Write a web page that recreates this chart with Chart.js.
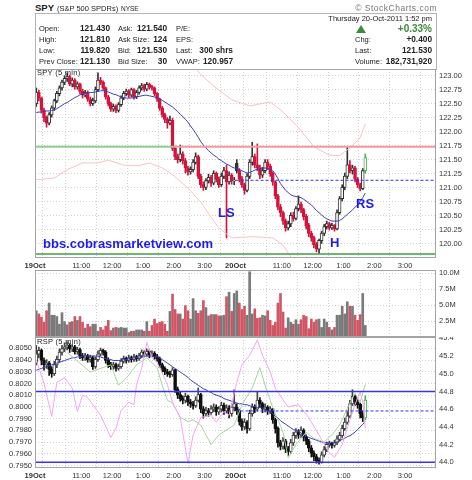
<!DOCTYPE html>
<html>
<head>
<meta charset="utf-8">
<script src="https://cdn.jsdelivr.net/npm/chart.js@4.4.0/dist/chart.umd.min.js"></script>
<style>
  body { margin: 0; background: #fff; width: 472px; height: 480px; position: relative; overflow: hidden;
         font-family: "Liberation Sans", Arial, sans-serif; color: #222; }
  .t { position: absolute; white-space: nowrap; line-height: 1; }
  canvas { position: absolute; left: 0; }
  #box { position: absolute; left: 35px; top: 13px; width: 402px; height: 57px; border: 1px solid #b4b4b4;
         border-bottom: none; box-sizing: border-box; }
  #tri { position: absolute; left: 356px; top: 25px; width: 0; height: 0; border-left: 5px solid transparent;
         border-right: 5px solid transparent; border-bottom: 8px solid #3c8a3c; }
</style>
</head>
<body>
<div id="box"></div>
<div id="tri"></div>
<canvas id="price" width="472" height="201" style="top:69px"></canvas>
<canvas id="vol" width="472" height="67" style="top:270px"></canvas>
<canvas id="rsp" width="472" height="143" style="top:337px"></canvas>

<script>
// ---------- data (5 min bars, 19-Oct 9:30 .. 20-Oct 1:45) ----------
const xTicks = [-0.5, 5.5, 17.5, 29.5, 41.5, 53.5, 65.5, 77.5, 83.5, 95.5, 107.5, 119.5, 131.5, 143.5, 155.5];
const xTickLabels = ['19Oct', '', '11:00', '12:00', '1:00', '2:00', '3:00', '20Oct', '', '11:00', '12:00', '1:00', '2:00', '3:00', ''];
const dayStart = [0, 78];

const priceTicks = [120.00, 120.25, 120.50, 120.75, 121.00, 121.25, 121.50, 121.75, 122.00, 122.25, 122.50, 122.75, 123.00];
const volTicks = [2.5, 5.0, 7.5, 10.0];
const ratioTicks = [0.7950, 0.7960, 0.7970, 0.7980, 0.7990, 0.8000, 0.8010, 0.8020, 0.8030, 0.8040, 0.8050];
const rspTicks = [44.0, 44.2, 44.4, 44.6, 44.8, 45.0, 45.2, 45.4];

const spyDayOpen = [122.50, 121.43];
const spyClose = [
  122.70,122.60,122.38,122.25,122.15,122.30,122.42,122.55,122.68,122.78,
  122.88,122.95,122.98,122.85,122.92,122.80,122.85,122.72,122.65,122.70,
  122.58,122.50,122.55,122.75,122.92,122.88,122.78,122.62,122.50,122.40,
  122.45,122.38,122.48,122.60,122.68,122.72,122.65,122.75,122.62,122.70,
  122.78,122.82,122.76,122.84,122.80,122.78,122.68,122.58,122.42,122.30,
  122.22,122.15,122.20,121.70,121.55,121.50,121.60,121.48,121.35,121.28,
  121.32,121.45,121.55,121.20,121.05,121.00,121.12,121.18,121.08,121.25,
  121.15,121.05,121.20,121.30,121.10,121.22,121.12,121.13,121.30,121.15,
  121.05,120.95,121.20,121.45,121.55,121.40,121.35,121.22,121.30,121.45,
  121.38,121.25,121.10,120.85,120.65,120.55,120.40,120.28,120.35,120.50,
  120.45,120.62,120.70,120.60,120.48,120.32,120.18,120.10,119.98,119.90,
  120.05,120.18,120.30,120.35,120.28,120.32,120.26,120.55,120.80,121.00,
  121.20,121.40,121.30,121.35,121.15,121.05,120.98,121.30,121.53
];
const spyHigh = [
  122.78,122.74,122.62,122.42,122.28,122.34,122.46,122.58,122.72,122.82,
  122.92,123.00,123.05,123.01,122.96,122.95,122.89,122.87,122.76,122.74,
  122.73,122.62,122.60,122.80,123.05,122.97,122.91,122.80,122.65,122.53,
  122.49,122.48,122.52,122.64,122.72,122.76,122.75,122.78,122.77,122.74,
  122.82,122.86,122.85,122.88,122.87,122.83,122.80,122.70,122.60,122.45,
  122.33,122.25,122.28,122.24,121.74,121.60,121.76,121.64,121.52,121.38,
  121.37,121.50,121.62,121.58,121.24,121.10,121.16,121.24,121.22,121.30,
  121.28,121.19,121.26,121.36,121.40,121.28,121.25,121.18,121.50,121.34,
  121.20,121.08,121.25,121.50,121.81,121.60,121.78,121.40,121.36,121.50,
  121.50,121.42,121.28,121.12,120.88,120.70,120.58,120.44,120.40,120.55,
  120.56,120.66,120.85,120.74,120.63,120.52,120.36,120.22,120.13,120.02,
  120.08,120.22,120.34,120.40,120.38,120.36,120.34,120.60,120.84,121.05,
  121.26,121.72,121.48,121.40,121.38,121.18,121.08,121.34,121.60
];
const spyLow = [
  122.45,122.55,122.33,122.18,122.08,122.12,122.26,122.38,122.52,122.64,
  122.74,122.84,122.90,122.82,122.80,122.76,122.76,122.68,122.60,122.62,
  122.54,122.46,122.47,122.52,122.72,122.84,122.74,122.58,122.46,122.36,
  122.36,122.34,122.35,122.45,122.57,122.64,122.61,122.62,122.58,122.59,
  122.67,122.74,122.72,122.73,122.76,122.74,122.64,122.54,122.38,122.26,
  122.16,122.06,122.12,121.66,121.50,121.44,121.46,121.42,121.26,121.22,
  121.24,121.28,121.42,121.16,121.00,120.95,120.96,121.08,121.02,121.05,
  121.10,121.00,121.02,121.16,120.10,121.06,121.06,121.05,121.26,121.10,
  121.00,120.88,120.92,121.16,121.40,121.35,121.30,121.16,121.18,121.26,
  121.32,121.20,121.04,120.80,120.60,120.48,120.34,120.22,120.24,120.30,
  120.40,120.42,120.58,120.55,120.42,120.26,120.12,120.04,119.92,119.85,
  119.82,120.00,120.14,120.26,120.24,120.25,120.22,120.24,120.52,120.76,
  120.96,121.16,121.26,121.24,121.10,121.00,120.94,120.96,121.26
];
const spyMA = [
  122.34,122.35,122.35,122.36,122.37,122.37,122.38,122.39,122.41,122.44,
  122.47,122.50,122.52,122.55,122.58,122.61,122.63,122.66,122.67,122.68,
  122.69,122.70,122.70,122.71,122.72,122.73,122.73,122.72,122.71,122.69,
  122.67,122.66,122.64,122.62,122.61,122.60,122.60,122.60,122.61,122.62,
  122.63,122.64,122.65,122.65,122.64,122.63,122.62,122.61,122.59,122.56,
  122.53,122.50,122.47,122.44,122.40,122.36,122.31,122.27,122.22,122.17,
  122.10,122.04,121.97,121.90,121.82,121.76,121.71,121.66,121.62,121.58,
  121.55,121.51,121.48,121.45,121.42,121.40,121.37,121.35,121.33,121.32,
  121.30,121.28,121.26,121.27,121.29,121.31,121.33,121.34,121.35,121.35,
  121.34,121.33,121.30,121.24,121.16,121.07,121.01,120.95,120.91,120.87,
  120.85,120.84,120.83,120.82,120.79,120.76,120.72,120.69,120.64,120.59,
  120.55,120.51,120.47,120.44,120.42,120.40,120.40,120.40,120.41,120.44,
  120.48,120.52,120.56,120.60,120.65,120.69,120.75,120.82,120.90
];
const spyUpperBar = [62, 64, 70, 76, 83, 91, 96, 102, 108, 114, 118, 122, 126, 128];
const spyUpperVal = [123.14, 123.02, 122.78, 122.57, 122.46, 122.53, 122.35, 122.07, 121.73, 121.58, 121.57, 121.71, 121.89, 122.14];
const spyLowerBar = [0, 7, 12, 18, 24, 28, 34, 40, 44, 49, 53, 59, 64, 66, 71, 76, 84, 92, 96, 99, 100];
const spyLowerVal = [121.14, 121.17, 121.32, 121.44, 121.44, 121.49, 121.40, 121.39, 121.44, 121.35, 121.23, 120.99, 120.74, 120.60, 120.28, 120.10, 120.12, 120.10, 119.97, 119.76, 119.70];
const spyLevels = [121.73, 119.81, 121.13];   // resistance, support, prev close

const volume = [   // millions
  4.1,3.6,3.1,2.3,4.1,5.3,3.4,3.4,3.2,2.0,
  3.8,2.4,1.9,2.3,2.4,3.2,2.6,3.2,2.3,1.4,
  2.0,1.6,2.0,2.0,0.9,1.5,1.1,1.7,2.6,1.0,
  1.4,1.5,1.4,1.5,1.4,1.4,0.7,0.9,0.9,1.1,
  1.1,1.1,0.9,2.4,0.9,1.8,2.8,2.1,2.3,2.4,
  2.0,0.9,4.0,6.7,4.3,3.6,3.6,2.8,4.9,4.1,
  2.8,6.0,4.1,3.7,4.1,5.7,4.6,3.3,3.5,3.5,
  3.5,3.3,3.3,3.4,6.3,7.0,4.0,6.8,
  7.2,5.3,4.3,4.8,3.4,10.2,3.6,4.4,2.9,3.0,
  3.4,3.3,4.1,2.6,1.8,2.3,5.3,6.8,3.9,1.4,
  3.0,2.3,2.0,2.7,2.0,2.7,3.4,3.2,1.3,2.8,
  2.3,2.7,2.8,1.5,2.8,2.3,1.5,1.1,1.5,3.4,
  3.4,4.8,3.6,5.5,4.8,4.8,3.4,2.6,3.5,6.8,1.8
];

const rspDayOpen = [45.12, 44.62];
const rspClose = [
  45.22,45.26,45.15,45.10,45.12,45.05,45.00,45.10,45.16,45.24,
  45.28,45.30,45.32,45.28,45.30,45.25,45.27,45.20,45.18,45.20,
  45.16,45.18,45.08,45.16,45.22,45.26,45.24,45.15,45.10,45.08,
  45.10,45.06,45.08,45.14,45.17,45.15,45.18,45.16,45.19,45.17,
  45.20,45.24,45.22,45.25,45.21,45.23,45.19,45.17,45.10,45.06,
  45.02,45.00,44.99,45.04,44.82,44.76,44.72,44.70,44.74,44.68,
  44.66,44.64,44.70,44.76,44.60,44.55,44.58,44.56,44.60,44.62,
  44.57,44.60,44.64,44.58,44.61,44.55,44.62,44.66,44.58,44.46,
  44.40,44.45,44.38,44.55,44.62,44.60,44.70,44.66,44.60,44.62,
  44.58,44.60,44.48,44.38,44.22,44.18,44.24,44.15,44.12,44.22,
  44.30,44.34,44.31,44.36,44.28,44.24,44.16,44.10,44.06,44.02,
  44.00,44.08,44.14,44.20,44.21,44.19,44.22,44.26,44.30,44.38,
  44.45,44.52,44.66,44.74,44.68,44.65,44.55,44.50,44.70
];
const rspHigh = [
  45.32,45.30,45.28,45.18,45.16,45.14,45.08,45.14,45.20,45.28,
  45.32,45.35,45.36,45.34,45.33,45.32,45.30,45.29,45.23,45.23,
  45.22,45.21,45.20,45.19,45.26,45.29,45.28,45.26,45.18,45.13,
  45.13,45.12,45.11,45.17,45.20,45.19,45.21,45.20,45.22,45.21,
  45.23,45.27,45.26,45.28,45.27,45.26,45.25,45.22,45.19,45.12,
  45.08,45.05,45.03,45.07,45.05,44.85,44.79,44.75,44.78,44.76,
  44.71,44.69,44.74,44.84,44.78,44.63,44.62,44.61,44.64,44.66,
  44.65,44.63,44.68,44.67,44.65,44.64,44.66,44.82,44.66,44.60,
  44.49,44.49,44.47,44.59,44.66,44.65,44.80,44.73,44.68,44.66,
  44.64,44.63,44.61,44.50,44.40,44.25,44.28,44.26,44.18,44.26,
  44.34,44.38,44.37,44.40,44.38,44.31,44.26,44.19,44.13,44.09,
  44.05,44.12,44.18,44.23,44.24,44.23,44.25,44.30,44.34,44.42,
  44.50,44.57,44.70,44.82,44.76,44.71,44.67,44.58,44.75
];
const rspLow = [
  45.10,45.18,45.10,45.04,45.06,44.98,44.96,44.98,45.07,45.13,
  45.21,45.25,45.27,45.24,45.25,45.22,45.22,45.17,45.15,45.15,
  45.13,45.13,45.05,45.06,45.14,45.20,45.21,45.12,45.07,45.05,
  45.05,45.03,45.04,45.06,45.12,45.12,45.13,45.13,45.14,45.14,
  45.15,45.18,45.19,45.20,45.18,45.19,45.16,45.14,45.07,45.02,
  44.99,44.97,44.96,44.97,44.79,44.72,44.69,44.66,44.67,44.64,
  44.62,44.60,44.62,44.68,44.56,44.50,44.52,44.52,44.54,44.57,
  44.53,44.54,44.57,44.54,44.55,44.50,44.52,44.58,44.54,44.42,
  44.36,44.37,44.33,44.36,44.52,44.56,44.58,44.62,44.56,44.57,
  44.54,44.55,44.44,44.33,44.17,44.14,44.15,44.11,44.08,44.10,
  44.19,44.27,44.27,44.28,44.24,44.20,44.12,44.06,44.02,43.99,
  43.98,43.99,44.06,44.12,44.17,44.16,44.17,44.20,44.24,44.28,
  44.36,44.43,44.50,44.64,44.64,44.61,44.50,44.46,44.48
];
const rspMA = [
  45.04,45.05,45.06,45.07,45.08,45.09,45.10,45.11,45.12,45.13,
  45.14,45.15,45.16,45.17,45.18,45.18,45.19,45.19,45.20,45.20,
  45.20,45.20,45.20,45.20,45.20,45.19,45.18,45.17,45.16,45.16,
  45.15,45.15,45.15,45.15,45.16,45.16,45.17,45.17,45.18,45.18,
  45.19,45.19,45.20,45.20,45.20,45.20,45.19,45.19,45.18,45.16,
  45.14,45.12,45.10,45.08,45.06,45.04,45.02,45.00,44.98,44.96,
  44.93,44.91,44.89,44.87,44.85,44.83,44.82,44.80,44.79,44.77,
  44.76,44.75,44.74,44.72,44.71,44.70,44.69,44.68,44.67,44.66,
  44.66,44.65,44.65,44.64,44.63,44.63,44.62,44.62,44.61,44.60,
  44.58,44.57,44.55,44.52,44.50,44.47,44.45,44.43,44.41,44.39,
  44.37,44.36,44.35,44.33,44.31,44.30,44.28,44.27,44.26,44.25,
  44.24,44.23,44.22,44.22,44.22,44.22,44.22,44.23,44.24,44.26,
  44.27,44.29,44.30,44.32,44.34,44.37,44.40,44.43,44.46
];
const ratioBar = [0,3,6,8,11,14,16,18,20,25,29,31,33,36,38,39,41,43,45,47,49,51,53,56,59,61,64,68,70,73,75,78,80,83,86,88,91,93,96,98,102,106,110,114,116,119,121,124,126,127,128];
const ratioVal = [.8040,.8020,.7992,.8021,.8025,.8016,.7996,.8010,.8008,.7993,.7974,.7982,.7997,.8004,.8002,.8019,.8033,.8055,.8042,.8038,
  .8029,.8019,.8004,.7991,.7952,.7976,.7991,.7993,.7987,.7996,.7993,.8021,.8036,.8044,.8057,.8044,.8030,.8016,.8006,.8000,
  .8002,.7991,.7976,.7961,.7957,.7968,.7982,.8002,.8013,.8004,.7982];
const greenBar = [12,17,21,26,29,32,35,39,43,47,49,51,53,56,59,61,64,68,71,77,80,84,87,89,92,96,98,101,105,108,112,115,118,121,124,126,128];
const greenVal = [45.24,45.12,45.02,45.07,45.10,44.87,44.95,45.10,45.18,45.07,44.87,44.70,44.67,44.51,44.46,44.48,44.42,44.20,44.31,44.42,
  44.65,44.84,45.07,44.87,44.62,44.34,44.05,44.20,44.34,44.27,44.23,44.31,44.42,44.61,44.78,44.68,44.88];
const rspLevels = [44.80, 44.00, 44.58];

// ---------- helpers ----------
const FONT = '"Liberation Sans", Arial, sans-serif';
const last = spyClose.length - 1;

function put(txt, x, y, size, opt = {}) {
  const d = document.createElement('div');
  d.className = 't';
  d.textContent = txt;
  d.style.top = y + 'px';
  if (opt.right) d.style.right = (472 - x) + 'px'; else d.style.left = x + 'px';
  d.style.fontSize = size + 'px';
  if (opt.bold) d.style.fontWeight = 'bold';
  if (opt.color) d.style.color = opt.color;
  if (opt.ls) d.style.letterSpacing = opt.ls + 'px';
  document.body.appendChild(d);
}

function opens(close, dayOpen) {
  return close.map((c, i) => {
    const d = dayStart.indexOf(i);
    return d >= 0 ? dayOpen[d] : close[i - 1];
  });
}
const pts = arr => arr.map((v, i) => ({ x: i, y: v }));
const sparse = (bars, vals) => bars.map((b, i) => ({ x: b, y: vals[i] }));
const hline = (y, from = -0.5, to = 155.5) => [{ x: from, y: y }, { x: to, y: y }];

function candles(open, close, high, low, axis, downColor, upColor) {
  const col = close.map((c, i) => i === last ? '#4caf50' : (i > 0 && c < close[i - 1] ? downColor : upColor));
  const fill = close.map((c, i) => c < open[i] ? col[i] : '#fff');
  return [
    { type: 'bar', yAxisID: axis, order: 3, grouped: false, barThickness: 1,
      data: close.map((c, i) => ({ x: i, y: [low[i], high[i]] })), backgroundColor: col },
    { type: 'bar', yAxisID: axis, order: 2, grouped: false, barThickness: 3, borderSkipped: false,
      data: close.map((c, i) => ({ x: i, y: [Math.min(open[i], c), Math.max(open[i], c) + 0.004] })),
      backgroundColor: fill, borderColor: col, borderWidth: 1 }
  ];
}

function line(data, axis, color, width, dash) {
  return { type: 'line', yAxisID: axis, order: 1, data: data, borderColor: color, borderWidth: width,
           borderDash: dash || [], pointRadius: 0, tension: 0, fill: false };
}

function timeAxis(showLabels) {
  return {
    type: 'linear', min: -0.5, max: 155.5, offset: false,
    afterBuildTicks: a => { a.ticks = xTicks.map(v => ({ value: v })); },
    grid: { color: '#d0d0d0', drawTicks: false },
    border: { display: false, dash: [1, 2] },
    ticks: {
      display: showLabels, autoSkip: false, maxRotation: 0, padding: 3, color: '#333',
      font: c => ({ family: FONT, size: 7.5, weight: (c.index !== undefined && /Oct/.test(xTickLabels[c.index])) ? 'bold' : 'normal' }),
      callback: (v, i) => xTickLabels[i]
    },
    afterFit: s => { s.height = showLabels ? 12 : 0; s.paddingLeft = 0; s.paddingRight = 0; }
  };
}

function valueAxis(pos, min, max, ticks, fmt, showGrid, width) {
  return {
    position: pos, min: min, max: max,
    afterBuildTicks: a => { a.ticks = ticks.map(v => ({ value: v })); },
    grid: { display: showGrid, color: '#d0d0d0', drawTicks: false },
    border: { display: false, dash: [1, 2] },
    ticks: { callback: fmt, color: '#333', padding: 3, font: { family: FONT, size: 7.5 } },
    afterFit: s => { s.width = width; s.paddingTop = 0; s.paddingBottom = 0; }
  };
}

const frame = {
  id: 'frame',
  afterDraw(chart) {
    const a = chart.chartArea, c = chart.ctx;
    c.save();
    c.strokeStyle = '#a4a4a4';
    c.lineWidth = 1;
    c.strokeRect(Math.round(a.left) + 0.5, Math.round(a.top) + 0.5, Math.round(a.right - a.left) - 1, Math.round(a.bottom - a.top) - 1);
    c.restore();
  }
};

const base = {
  responsive: false, animation: false, devicePixelRatio: 1,
  plugins: { legend: { display: false }, tooltip: { enabled: false } }
};

// ---------- price panel ----------
const spyOpen = opens(spyClose, spyDayOpen);
new Chart(document.getElementById('price'), {
  type: 'bar',
  data: { datasets: [
    line(hline(spyLevels[0], -0.5, 53.5), 'y', '#8fcf8f', 2),
    line(hline(spyLevels[0], 53.5), 'y', '#f29a9a', 2),
    line(hline(spyLevels[1]), 'y', '#3f9f3f', 1.5),
    line(hline(spyLevels[2], 77.5), 'y', '#3030ee', 1, [3, 2]),
    line(sparse(spyUpperBar, spyUpperVal), 'y', '#f6c4c4', 1),
    line(sparse(spyLowerBar, spyLowerVal), 'y', '#f6c4c4', 1),
    line(pts(spyMA), 'y', '#3a3ac0', 1),
    ...candles(spyOpen, spyClose, spyHigh, spyLow, 'y', '#d4143c', '#333')
  ] },
  options: { ...base,
    layout: { padding: { left: 35, right: 0, top: 0, bottom: 0 } },
    scales: {
      x: timeAxis(true),
      y: valueAxis('right', 119.74, 123.12, priceTicks, v => v.toFixed(2), true, 36)
    }
  },
  plugins: [frame]
});

// ---------- volume panel ----------
new Chart(document.getElementById('vol'), {
  type: 'bar',
  data: { datasets: [{
    data: pts(volume), grouped: false, barThickness: 2,
    backgroundColor: volume.map((v, i) => (i > 0 && spyClose[i] < spyClose[i - 1]) ? '#d25565' : '#7a7a7a')
  }] },
  options: { ...base,
    layout: { padding: { left: 35, right: 0, top: 0, bottom: 0 } },
    scales: {
      x: timeAxis(false),
      y: valueAxis('right', 0, 10.47, volTicks, v => v.toFixed(1) + 'M', true, 36)
    }
  },
  plugins: [frame]
});

// ---------- RSP panel ----------
const rspOpen = opens(rspClose, rspDayOpen);
new Chart(document.getElementById('rsp'), {
  type: 'bar',
  data: { datasets: [
    line(hline(rspLevels[0]), 'yR', '#3434f0', 1.5),
    line(hline(rspLevels[1]), 'yR', '#3434f0', 1.5),
    line(hline(rspLevels[2], 77.5), 'yR', '#3434f0', 1, [3, 2]),
    line(sparse(ratioBar, ratioVal), 'yL', '#f2a6f2', 1),
    line(sparse(greenBar, greenVal), 'yR', '#a9d3a2', 1),
    line(pts(rspMA), 'yR', '#3a3ac0', 1),
    ...candles(rspOpen, rspClose, rspHigh, rspLow, 'yR', '#111', '#444')
  ] },
  options: { ...base,
    layout: { padding: 0 },
    scales: {
      x: timeAxis(true),
      yL: valueAxis('left', 0.7948, 0.80596, ratioTicks, v => v.toFixed(4), true, 35),
      yR: valueAxis('right', 43.936, 45.415, rspTicks, v => v.toFixed(1), false, 36)
    }
  },
  plugins: [frame]
});

// ---------- header and notes ----------
put('SPY', 35, 3, 9.5, { bold: true });
put('(S&P 500 SPDRs)', 57, 4.5, 7.5);
put('NYSE', 121, 5.5, 6.5);
put('\u00a9 StockCharts.com', 437, 4, 8.5, { right: true, color: '#777', ls: 0.5 });

put('Thursday  20-Oct-2011  1:52 pm', 432, 15, 7.5, { right: true });
const rowTop = [24.5, 35.5, 46.5, 57.5];
[['Open:', '121.430'], ['High:', '121.810'], ['Low:', '119.820'], ['Prev Close:', '121.130']].forEach((r, i) => {
  put(r[0], 39, rowTop[i], 7.5); put(r[1], 110, rowTop[i] - 0.5, 8.3, { right: true, bold: true });
});
[['Ask:', '121.540'], ['Ask Size:', '124'], ['Bid:', '121.530'], ['Bid Size:', '30']].forEach((r, i) => {
  put(r[0], 118, rowTop[i], 7.5); put(r[1], 167, rowTop[i] - 0.5, 8.3, { right: true, bold: true });
});
[['P/E:', ''], ['EPS:', ''], ['Last:', '300 shrs'], ['VWAP:', '120.957']].forEach((r, i) => {
  put(r[0], 176, rowTop[i], 7.5); if (r[1]) put(r[1], 233, rowTop[i] - 0.5, 8.3, { right: true, bold: true });
});
put('+0.33%', 432, 23.5, 10, { right: true, bold: true, color: '#3c8a3c' });
[['Chg:', '+0.400'], ['Last:', '121.530'], ['Volume:', '182,731,920']].forEach((r, i) => {
  put(r[0], 355, rowTop[i + 1], 7.5); put(r[1], 432, rowTop[i + 1] - 0.5, 8.3, { right: true, bold: true });
});

put('SPY (5 min)', 37, 69, 7.5, { ls: 0.3 });
put('RSP (5 min)', 37, 338, 7.5, { ls: 0.3 });

const BLUE = '#1c1cf0';
put('bbs.cobrasmarketview.com', 43, 236.5, 13, { bold: true, color: BLUE });
put('LS', 218, 205.5, 13, { bold: true, color: BLUE });
put('H', 330, 235.5, 13, { bold: true, color: BLUE });
put('RS', 356, 196.5, 13, { bold: true, color: BLUE });
</script>
</body>
</html>
